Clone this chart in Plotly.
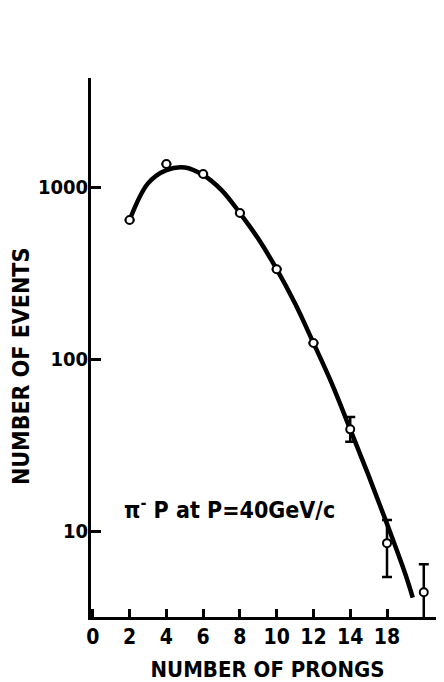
import math
import plotly.graph_objects as go

# Data
prongs = [2, 4, 6, 8, 10, 12, 14, 16, 18]
events = [643, 1360, 1190, 706, 333, 124, 39, 8.5, 4.4]
err_plus = [0, 0, 0, 0, 0, 0, 7, 3.1, 2.0]
err_minus = [0, 0, 0, 0, 0, 0, 6, 3.1, 1.6]

curve_x = [2, 3, 4, 5, 6, 7, 8, 9, 10, 11, 12, 13, 14, 15, 16, 17, 17.4]
curve_y = [643, 1050, 1255, 1300, 1175, 960, 706, 500, 333, 210, 124, 72, 39, 21, 11, 5.6, 4.1]

tick_vals = [0, 2, 4, 6, 8, 10, 12, 14, 16]
tick_text = ["0", "2", "4", "6", "8", "10", "12", "14", "18"]
y_tick_vals = [10, 100, 1000]
y_tick_text = ["10", "100", "1000"]

FONT = "DejaVu Sans Condensed, Liberation Sans Narrow, DejaVu Sans, sans-serif"

fig = go.Figure()
fig.add_trace(go.Scatter(
    x=curve_x, y=curve_y, mode="lines",
    line=dict(color="black", width=4.5, shape="spline", smoothing=1.0),
    hoverinfo="skip", showlegend=False,
))
fig.add_trace(go.Scatter(
    x=prongs, y=events, mode="markers",
    marker=dict(symbol="circle", size=8, color="white",
                line=dict(color="black", width=2)),
    error_y=dict(type="data", array=err_plus, arrayminus=err_minus,
                 symmetric=False, color="black", thickness=2.5, width=5),
    showlegend=False,
))

fig.update_layout(
    width=436, height=674,
    margin=dict(l=83, r=0, t=70, b=65),
    paper_bgcolor="white", plot_bgcolor="white",
    font=dict(family=FONT, color="black", size=19, weight="bold"),
    xaxis=dict(
        range=[-0.1, 19.1], showgrid=False, zeroline=False,
        showline=True, linecolor="black", linewidth=3,
        ticks="inside", ticklen=8, tickwidth=2.5, tickcolor="black",
        tickvals=tick_vals, ticktext=tick_text,
        tickfont=dict(family=FONT, size=21, weight="bold"),
        ticklabelstandoff=-1,
        title=dict(text="NUMBER OF PRONGS", standoff=14,
                   font=dict(family=FONT, size=22, weight="bold")),
    ),
    yaxis=dict(
        type="log", range=[0.5, 3.634], showgrid=False, zeroline=False,
        showline=True, linecolor="black", linewidth=3,
        ticks="inside", ticklen=10, tickwidth=2.5, tickcolor="black",
        tickvals=y_tick_vals, ticktext=y_tick_text,
        tickfont=dict(family=FONT, size=20, weight="bold"),
        ticklabelstandoff=-4,
    ),
    annotations=[
        dict(text="NUMBER OF EVENTS", textangle=-90, xref="paper", yref="paper",
             x=-0.198, y=0.464, xanchor="center", yanchor="middle", showarrow=False,
             font=dict(family=FONT, size=23, weight="bold")),
        dict(text="π<sup>-</sup> P at P=40GeV/c", xref="x", yref="y",
             x=1.6, y=math.log10(13.6), xanchor="left", yanchor="middle", showarrow=False,
             font=dict(family=FONT, size=23, weight="bold")),
    ],
)

fig.write_html("out.html")
